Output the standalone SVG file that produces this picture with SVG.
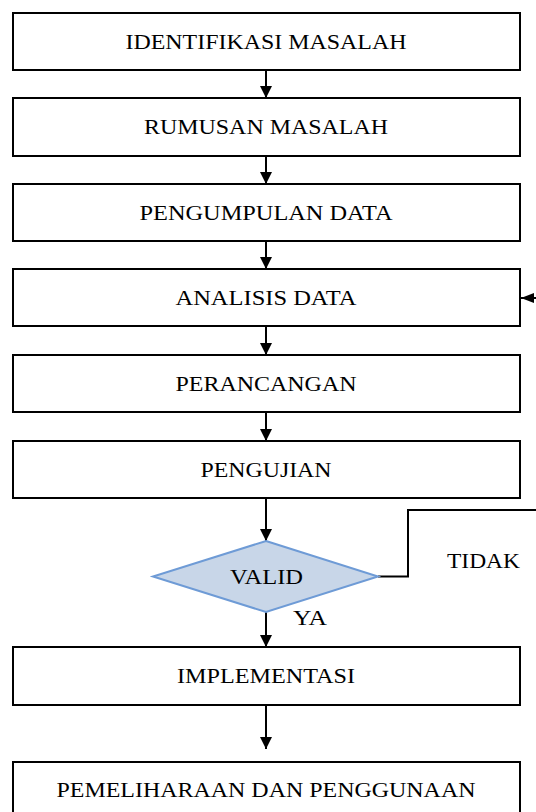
<svg xmlns="http://www.w3.org/2000/svg" width="536" height="812" viewBox="0 0 536 812">
<defs>
<marker id="ah" markerUnits="userSpaceOnUse" markerWidth="12" markerHeight="12" refX="12" refY="6" orient="auto">
<path d="M0,0 L12,6 L0,12 Z" fill="#000"/>
</marker>
<marker id="ahs" markerUnits="userSpaceOnUse" markerWidth="13" markerHeight="10" refX="13" refY="5" orient="auto">
<path d="M0,0 L13,5 L0,10 Z" fill="#000"/>
</marker>
<style>
.box{fill:#fff;stroke:#000;stroke-width:2}
.dia{fill:#c8d6e8;stroke:#6e9bd6;stroke-width:2}
.lbl{font-family:"Liberation Serif","Times New Roman",serif;font-size:21px;fill:#000;text-anchor:middle}
.con{fill:none;stroke:#000;stroke-width:2}
</style>
</defs>
<rect width="536" height="812" fill="#fff"/>
<g id="connectors">
<path class="con" d="M266,70 V98" marker-end="url(#ah)"/>
<path class="con" d="M266,156 V184" marker-end="url(#ah)"/>
<path class="con" d="M266,241 V269" marker-end="url(#ah)"/>
<path class="con" d="M266,326 V355" marker-end="url(#ah)"/>
<path class="con" d="M266,412 V441" marker-end="url(#ah)"/>
<path class="con" d="M266,498 V541" marker-end="url(#ah)"/>
<path class="con" d="M266,612 V647" marker-end="url(#ah)"/>
<path class="con" d="M266,705 V749" marker-end="url(#ah)"/>
<path class="con" d="M378,576.5 H408 V510 H545 V298 H521" marker-end="url(#ahs)"/>
<text class="lbl" x="310" y="625" textLength="34" lengthAdjust="spacingAndGlyphs">YA</text>
<text class="lbl" x="483.5" y="568" textLength="73" lengthAdjust="spacingAndGlyphs">TIDAK</text>
</g>
<g id="n1"><rect class="box" x="13" y="13" width="507" height="57"/><text class="lbl" x="266" y="48.5" textLength="281" lengthAdjust="spacingAndGlyphs">IDENTIFIKASI MASALAH</text></g>
<g id="n2"><rect class="box" x="13" y="98" width="507" height="58"/><text class="lbl" x="266" y="134" textLength="244" lengthAdjust="spacingAndGlyphs">RUMUSAN MASALAH</text></g>
<g id="n3"><rect class="box" x="13" y="184" width="507" height="57"/><text class="lbl" x="266" y="219.5" textLength="253" lengthAdjust="spacingAndGlyphs">PENGUMPULAN DATA</text></g>
<g id="n4"><rect class="box" x="13" y="269" width="507" height="57"/><text class="lbl" x="266" y="304.5" textLength="181" lengthAdjust="spacingAndGlyphs">ANALISIS DATA</text></g>
<g id="n5"><rect class="box" x="13" y="355" width="507" height="57"/><text class="lbl" x="266" y="390.5" textLength="181" lengthAdjust="spacingAndGlyphs">PERANCANGAN</text></g>
<g id="n6"><rect class="box" x="13" y="441" width="507" height="57"/><text class="lbl" x="266" y="476.5" textLength="131" lengthAdjust="spacingAndGlyphs">PENGUJIAN</text></g>
<g id="n7"><polygon class="dia" points="266,541 378,576.5 266,612 153,576.5"/><text class="lbl" x="266.5" y="583.5" textLength="73" lengthAdjust="spacingAndGlyphs">VALID</text></g>
<g id="n8"><rect class="box" x="13" y="647" width="507" height="58"/><text class="lbl" x="266" y="683" textLength="178" lengthAdjust="spacingAndGlyphs">IMPLEMENTASI</text></g>
<g id="n9"><rect class="box" x="13" y="762" width="507" height="57"/><text class="lbl" x="266" y="797" textLength="419" lengthAdjust="spacingAndGlyphs">PEMELIHARAAN DAN PENGGUNAAN</text></g>
</svg>
